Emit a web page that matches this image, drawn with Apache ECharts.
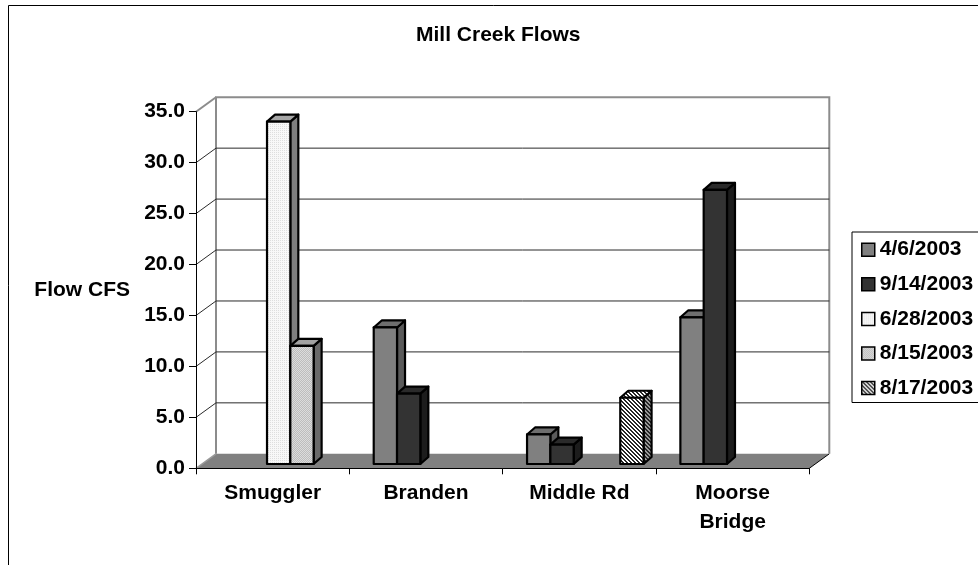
<!DOCTYPE html>
<html>
<head>
<meta charset="utf-8">
<title>Mill Creek Flows</title>
<script src="https://cdn.jsdelivr.net/npm/echarts@6/dist/echarts.min.js"></script>
<style>
  html, body { margin: 0; padding: 0; background: #ffffff; }
  #chart { width: 978px; height: 565px; }
</style>
</head>
<body>
<div id="chart"></div>
<script>
// Sampling sites along Mill Creek and the survey dates
const sites = ['Smuggler', 'Branden', 'Middle Rd', 'Moorse\nBridge'];
const surveyDates = ['4/6/2003', '9/14/2003', '6/28/2003', '8/15/2003', '8/17/2003'];

// Flow in cubic feet per second, one value per site (null = not measured)
const flow_2003_04_06 = [null, 13.4, 2.9, 14.4];
const flow_2003_09_14 = [null, 6.9, 1.9, 26.9];
const flow_2003_06_28 = [33.6, null, null, null];
const flow_2003_08_15 = [11.6, null, null, null];
const flow_2003_08_17 = [null, null, 6.5, null];

// Value axis ticks
const flowTicks = [0, 5, 10, 15, 20, 25, 30, 35];

const FONT = "'Liberation Sans', Arial, Helvetica, sans-serif";
const FONT_SIZE = 21;

// --- pseudo-3D geometry (pixel offsets) ---
const WALL_DX = 20, WALL_DY = -14.5;   // front plane -> back wall
const BAR_FX = 6, BAR_FY = -4.3;       // front plane -> bar front faces
const BAR_DX = 8, BAR_DY = -7;         // bar thickness (depth)
const CLUSTER = 0.76;                  // share of a category band taken by the 5 bar slots

// --- fill patterns ---
function makePattern(size, painter) {
  const c = document.createElement('canvas');
  c.width = size; c.height = size;
  const g = c.getContext('2d');
  for (let y = 0; y < size; y++) {
    for (let x = 0; x < size; x++) {
      g.fillStyle = painter(x, y);
      g.fillRect(x, y, 1, 1);
    }
  }
  return { image: c, repeat: 'repeat' };
}
const stippleLight = makePattern(2, (x, y) => (x === 0 && y === 0) ? '#dedede' : '#f8f8f8');
const stippleGray = makePattern(2, (x, y) => ((x + y) % 2 === 0) ? '#dcdcdc' : '#bdbdbd');
const hatchFront = makePattern(4, (x, y) => ((((x - y) % 4) + 4) % 4 < 2) ? '#262626' : '#ffffff');
const hatchSide = makePattern(4, (x, y) => ((((x - y) % 4) + 4) % 4 < 2) ? '#262626' : '#9a9a9a');

// front / top / side fills for each survey date
const faces = [
  { front: '#808080', top: '#6e6e6e', side: '#5a5a5a' },
  { front: '#333333', top: '#2a2a2a', side: '#1c1c1c' },
  { front: stippleLight, top: '#a6a6a6', side: '#7e7e7e' },
  { front: stippleGray, top: '#a3a3a3', side: '#6a6a6a' },
  { front: hatchFront, top: hatchFront, side: hatchSide }
];
const flowsByDate = [flow_2003_04_06, flow_2003_09_14, flow_2003_06_28, flow_2003_08_15, flow_2003_08_17];

// floor and walls behind the bars
function renderFrame(params, api) {
  const cs = params.coordSys;
  const gx = cs.x, gw = cs.width;
  const y0 = api.coord([0, 0])[1];
  const yMax = api.coord([0, flowTicks[flowTicks.length - 1]])[1];
  const bx = gx + WALL_DX, bw = gx + gw + WALL_DX;
  return {
    type: 'group',
    children: [
      {
        type: 'polygon',
        shape: { points: [[gx, y0], [gx + gw, y0], [bw, y0 + WALL_DY], [bx, y0 + WALL_DY]] },
        style: { fill: '#808080', stroke: null }
      },
      {
        type: 'line',
        shape: { x1: gx + gw, y1: y0, x2: bw, y2: y0 + WALL_DY },
        style: { stroke: '#000000', lineWidth: 1 }
      },
      {
        type: 'line',
        shape: { x1: gx, y1: y0, x2: bx, y2: y0 + WALL_DY },
        style: { stroke: '#9a9a9a', lineWidth: 1.5 }
      },
      {
        type: 'polyline',
        shape: { points: [[bx, y0 + WALL_DY], [bx, yMax + WALL_DY], [bw, yMax + WALL_DY], [bw, y0 + WALL_DY]] },
        style: { stroke: '#8c8c8c', lineWidth: 2, fill: null }
      },
      {
        type: 'line',
        shape: { x1: gx, y1: yMax, x2: bx, y2: yMax + WALL_DY },
        style: { stroke: '#8c8c8c', lineWidth: 2 }
      }
    ]
  };
}

// gridlines on the side wall and back wall
function renderGridline(params, api) {
  const v = api.value(1);
  if (v <= 0 || v >= flowTicks[flowTicks.length - 1]) return null;
  const cs = params.coordSys;
  const gx = cs.x, gw = cs.width;
  const y = api.coord([0, v])[1];
  return {
    type: 'polyline',
    shape: { points: [[gx, y], [gx + WALL_DX, y + WALL_DY], [gx + gw + WALL_DX, y + WALL_DY]] },
    style: { stroke: '#2a2a2a', lineWidth: 1, fill: null }
  };
}

// one 3D column per (site, date)
function makeBarRenderer(slot) {
  const f = faces[slot];
  return function (params, api) {
    const ci = api.value(0);
    const v = api.value(1);
    const top = api.coord([ci, v]);
    const base = api.coord([ci, 0]);
    const band = api.size([1, 0])[0];
    const w = band * CLUSTER / surveyDates.length;
    const cx = top[0] + (slot - (surveyDates.length - 1) / 2) * w + BAR_FX;
    const x0 = cx - w / 2, x1 = cx + w / 2;
    const yt = top[1] + BAR_FY, yb = base[1] + BAR_FY;
    const edge = { stroke: '#000000', lineWidth: 2.2, lineJoin: 'round' };
    return {
      type: 'group',
      children: [
        {
          type: 'polygon',
          shape: { points: [[x1, yb], [x1 + BAR_DX, yb + BAR_DY], [x1 + BAR_DX, yt + BAR_DY], [x1, yt]] },
          style: Object.assign({ fill: f.side }, edge)
        },
        {
          type: 'polygon',
          shape: { points: [[x0, yt], [x0 + BAR_DX, yt + BAR_DY], [x1 + BAR_DX, yt + BAR_DY], [x1, yt]] },
          style: Object.assign({ fill: f.top }, edge)
        },
        {
          type: 'rect',
          shape: { x: x0, y: yt, width: w, height: yb - yt },
          style: Object.assign({ fill: f.front }, edge)
        }
      ]
    };
  };
}

const textBase = { fontFamily: FONT, fontWeight: 'bold', fontSize: FONT_SIZE, color: '#000000' };

const barSeries = surveyDates.map((name, slot) => ({
  name: name,
  type: 'custom',
  coordinateSystem: 'cartesian2d',
  z: 5,
  clip: false,
  silent: true,
  itemStyle: { color: faces[slot].front, borderColor: '#000000', borderWidth: 1.5 },
  encode: { x: 0, y: 1 },
  renderItem: makeBarRenderer(slot),
  data: flowsByDate[slot].map((v, i) => [i, v]).filter(d => d[1] !== null)
}));

const chart = echarts.init(document.getElementById('chart'), null, { renderer: 'canvas' });

chart.setOption({
  animation: false,
  backgroundColor: '#ffffff',
  title: {
    text: 'Mill Creek Flows',
    left: 416,
    top: 24.5,
    padding: 0,
    textStyle: Object.assign({}, textBase, { lineHeight: 21 })
  },
  graphic: [
    {
      type: 'rect',
      silent: true,
      shape: { x: 8.5, y: 5.5, width: 1200, height: 1200 },
      style: { fill: null, stroke: '#000000', lineWidth: 1 }
    }
  ],
  legend: {
    orient: 'vertical',
    left: 852,
    top: 232,
    padding: [7.2, 30, 3.9, 9],
    borderColor: '#000000',
    borderWidth: 1,
    icon: 'rect',
    itemWidth: 13,
    itemHeight: 13,
    itemGap: 13.6,
    selectedMode: false,
    textStyle: Object.assign({}, textBase, { lineHeight: 21 }),
    data: surveyDates.map((name, slot) => ({
      name: name,
      itemStyle: { color: faces[slot].front, borderColor: '#000000', borderWidth: 1.5 }
    }))
  },
  grid: {
    left: 196,
    top: 111.7,
    width: 613.3,
    height: 356.6,
    outerBoundsMode: 'none',
    containLabel: false
  },
  xAxis: {
    type: 'category',
    data: sites,
    z: 10,
    boundaryGap: true,
    axisLine: { show: true, lineStyle: { color: '#000000', width: 1 } },
    axisTick: { show: true, length: 6, lineStyle: { color: '#000000', width: 1 } },
    axisLabel: Object.assign({ margin: 10, lineHeight: 29, interval: 0 }, textBase),
    splitLine: { show: false }
  },
  yAxis: {
    type: 'value',
    min: flowTicks[0],
    max: flowTicks[flowTicks.length - 1],
    interval: 5,
    z: 10,
    name: 'Flow CFS',
    nameLocation: 'middle',
    nameRotate: 0,
    nameGap: 66,
    nameTextStyle: textBase,
    axisLine: { show: true, lineStyle: { color: '#000000', width: 1 } },
    axisTick: { show: true, length: 7, lineStyle: { color: '#000000', width: 1 } },
    axisLabel: Object.assign({ margin: 11, formatter: v => v.toFixed(1) }, textBase),
    splitLine: { show: false }
  },
  series: [
    {
      name: 'frame',
      type: 'custom',
      coordinateSystem: 'cartesian2d',
      z: 1,
      clip: false,
      silent: true,
      encode: { x: 0, y: 1 },
      renderItem: renderFrame,
      data: [[0, 0]]
    },
    {
      name: 'gridlines',
      type: 'custom',
      coordinateSystem: 'cartesian2d',
      z: 2,
      clip: false,
      silent: true,
      encode: { x: 0, y: 1 },
      renderItem: renderGridline,
      data: flowTicks.map(v => [0, v])
    }
  ].concat(barSeries)
});
</script>
</body>
</html>
